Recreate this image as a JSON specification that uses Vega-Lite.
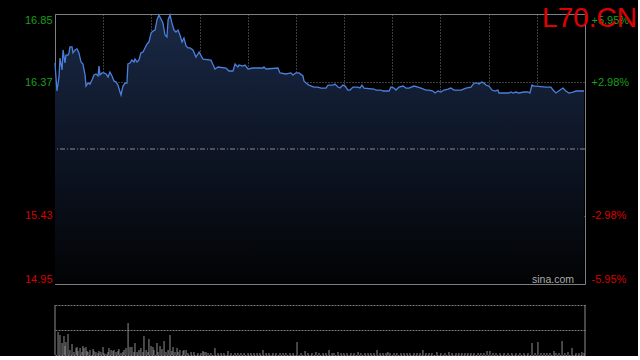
{
  "$schema": "https://vega.github.io/schema/vega-lite/v6.json",
  "background": "#000000",
  "padding": {"left": 0, "top": 4, "right": 0, "bottom": 0},
  "spacing": 18,
  "datasets": {
    "price": [
      {"m":0,"p":16.505},{"m":1.2,"p":16.308},{"m":2.5,"p":16.407},{"m":3.1,"p":16.54},{"m":4.4,"p":16.456},{"m":5.0,"p":16.597},{"m":6.2,"p":16.505},{"m":6.8,"p":16.561},{"m":8.1,"p":16.561},{"m":8.7,"p":16.576},{"m":9.3,"p":16.618},{"m":10.6,"p":16.618},{"m":11.2,"p":16.576},{"m":12.5,"p":16.597},{"m":13.7,"p":16.604},{"m":14.9,"p":16.576},{"m":16.2,"p":16.512},{"m":17.4,"p":16.498},{"m":18.7,"p":16.421},{"m":19.3,"p":16.343},{"m":20.5,"p":16.364},{"m":21.8,"p":16.357},{"m":23.0,"p":16.386},{"m":24.3,"p":16.421},{"m":25.5,"p":16.428},{"m":26.8,"p":16.414},{"m":27.4,"p":16.484},{"m":28.0,"p":16.421},{"m":29.3,"p":16.435},{"m":30.5,"p":16.435},{"m":31.8,"p":16.428},{"m":33.0,"p":16.407},{"m":34.2,"p":16.442},{"m":35.5,"p":16.414},{"m":36.7,"p":16.379},{"m":38.0,"p":16.371},{"m":39.2,"p":16.35},{"m":40.5,"p":16.301},{"m":41.1,"p":16.28},{"m":42.3,"p":16.343},{"m":43.6,"p":16.364},{"m":44.8,"p":16.364},{"m":45.4,"p":16.498},{"m":46.7,"p":16.505},{"m":47.9,"p":16.526},{"m":49.2,"p":16.512},{"m":49.8,"p":16.533},{"m":51.1,"p":16.512},{"m":52.3,"p":16.526},{"m":53.5,"p":16.576},{"m":54.8,"p":16.583},{"m":56.0,"p":16.611},{"m":57.3,"p":16.639},{"m":58.5,"p":16.653},{"m":59.8,"p":16.716},{"m":61.0,"p":16.73},{"m":62.3,"p":16.737},{"m":63.5,"p":16.808},{"m":64.7,"p":16.843},{"m":66.0,"p":16.815},{"m":67.2,"p":16.787},{"m":68.5,"p":16.702},{"m":69.7,"p":16.688},{"m":70.4,"p":16.808},{"m":71.6,"p":16.843},{"m":72.8,"p":16.787},{"m":74.1,"p":16.737},{"m":75.3,"p":16.723},{"m":76.6,"p":16.737},{"m":77.8,"p":16.702},{"m":79.1,"p":16.653},{"m":80.3,"p":16.681},{"m":81.6,"p":16.625},{"m":82.8,"p":16.611},{"m":84.1,"p":16.611},{"m":85.9,"p":16.597},{"m":87.8,"p":16.547},{"m":89.7,"p":16.583},{"m":92.1,"p":16.533},{"m":97.1,"p":16.526},{"m":99.6,"p":16.463},{"m":101.5,"p":16.477},{"m":106.5,"p":16.47},{"m":108.3,"p":16.449},{"m":110.8,"p":16.449},{"m":112.1,"p":16.498},{"m":113.9,"p":16.477},{"m":114.6,"p":16.491},{"m":117.0,"p":16.484},{"m":118.3,"p":16.491},{"m":120.2,"p":16.463},{"m":123.3,"p":16.47},{"m":129.5,"p":16.47},{"m":130.1,"p":16.477},{"m":131.4,"p":16.463},{"m":138.8,"p":16.47},{"m":140.1,"p":16.435},{"m":143.8,"p":16.428},{"m":146.9,"p":16.435},{"m":148.2,"p":16.421},{"m":150.0,"p":16.435},{"m":151.9,"p":16.435},{"m":154.4,"p":16.414},{"m":155.0,"p":16.379},{"m":156.3,"p":16.364},{"m":158.1,"p":16.35},{"m":161.3,"p":16.336},{"m":163.7,"p":16.336},{"m":165.6,"p":16.329},{"m":168.7,"p":16.329},{"m":170.0,"p":16.35},{"m":173.1,"p":16.35},{"m":174.3,"p":16.357},{"m":176.2,"p":16.336},{"m":177.4,"p":16.329},{"m":179.3,"p":16.35},{"m":180.6,"p":16.343},{"m":182.4,"p":16.315},{"m":183.7,"p":16.315},{"m":185.5,"p":16.336},{"m":188.6,"p":16.336},{"m":189.9,"p":16.329},{"m":191.1,"p":16.35},{"m":192.4,"p":16.329},{"m":198.6,"p":16.322},{"m":199.9,"p":16.315},{"m":203.0,"p":16.315},{"m":204.2,"p":16.308},{"m":208.0,"p":16.308},{"m":209.2,"p":16.336},{"m":211.1,"p":16.329},{"m":212.3,"p":16.315},{"m":214.2,"p":16.336},{"m":216.7,"p":16.343},{"m":218.5,"p":16.329},{"m":220.4,"p":16.329},{"m":223.5,"p":16.343},{"m":226.0,"p":16.336},{"m":227.9,"p":16.329},{"m":231.0,"p":16.315},{"m":232.9,"p":16.315},{"m":235.3,"p":16.308},{"m":236.6,"p":16.294},{"m":238.5,"p":16.308},{"m":240.3,"p":16.301},{"m":242.2,"p":16.315},{"m":244.7,"p":16.322},{"m":246.5,"p":16.329},{"m":248.4,"p":16.315},{"m":252.8,"p":16.315},{"m":255.9,"p":16.329},{"m":259.0,"p":16.336},{"m":260.9,"p":16.364},{"m":263.4,"p":16.364},{"m":264.0,"p":16.357},{"m":265.8,"p":16.371},{"m":267.1,"p":16.364},{"m":268.3,"p":16.35},{"m":270.2,"p":16.343},{"m":272.1,"p":16.315},{"m":273.9,"p":16.308},{"m":275.8,"p":16.315},{"m":276.4,"p":16.294},{"m":282.7,"p":16.294},{"m":283.9,"p":16.301},{"m":285.2,"p":16.294},{"m":287.0,"p":16.301},{"m":288.9,"p":16.294},{"m":292.0,"p":16.301},{"m":294.5,"p":16.301},{"m":295.7,"p":16.294},{"m":297.0,"p":16.35},{"m":298.2,"p":16.343},{"m":299.5,"p":16.343},{"m":305.7,"p":16.336},{"m":308.8,"p":16.336},{"m":310.1,"p":16.315},{"m":311.9,"p":16.294},{"m":314.4,"p":16.315},{"m":316.3,"p":16.329},{"m":318.1,"p":16.308},{"m":320.0,"p":16.294},{"m":322.5,"p":16.301},{"m":324.4,"p":16.308},{"m":326.2,"p":16.308},{"m":328.1,"p":16.308},{"m":329.4,"p":16.308}
    ],
    "vol": [
      {"m":0,"v":50},{"m":1.9,"v":23},{"m":3.1,"v":20},{"m":4.4,"v":12},{"m":5.6,"v":19},{"m":6.2,"v":9},{"m":6.8,"v":13},{"m":8.1,"v":21},{"m":9.3,"v":5},{"m":10.6,"v":11},{"m":11.8,"v":3},{"m":13.1,"v":7},{"m":13.7,"v":8},{"m":14.3,"v":4},{"m":15.6,"v":7},{"m":16.8,"v":3},{"m":17.4,"v":9},{"m":18.1,"v":7},{"m":19.3,"v":8},{"m":19.9,"v":4},{"m":20.5,"v":3},{"m":21.8,"v":5},{"m":23.7,"v":6},{"m":24.3,"v":4},{"m":25.5,"v":3},{"m":26.8,"v":2},{"m":27.4,"v":4},{"m":28.6,"v":3},{"m":29.9,"v":8},{"m":30.5,"v":2},{"m":31.8,"v":1},{"m":33.0,"v":3},{"m":33.6,"v":7},{"m":34.9,"v":5},{"m":36.1,"v":4},{"m":36.7,"v":5},{"m":38.0,"v":3},{"m":39.2,"v":4},{"m":39.8,"v":6},{"m":41.1,"v":2},{"m":42.3,"v":3},{"m":43.0,"v":5},{"m":44.2,"v":7},{"m":45.5,"v":32},{"m":46.7,"v":8},{"m":47.9,"v":8},{"m":49.2,"v":3},{"m":49.8,"v":12},{"m":51.1,"v":3},{"m":52.3,"v":5},{"m":53.5,"v":7},{"m":54.8,"v":3},{"m":55.4,"v":19},{"m":56.7,"v":5},{"m":57.9,"v":3},{"m":58.5,"v":16},{"m":59.8,"v":9},{"m":61.0,"v":8},{"m":61.6,"v":5},{"m":63.5,"v":12},{"m":64.1,"v":3},{"m":65.4,"v":9},{"m":66.6,"v":6},{"m":67.9,"v":14},{"m":69.1,"v":3},{"m":70.4,"v":5},{"m":71.6,"v":20},{"m":72.8,"v":4},{"m":73.5,"v":8},{"m":74.7,"v":3},{"m":76.0,"v":7},{"m":76.6,"v":3},{"m":77.8,"v":5},{"m":79.7,"v":4},{"m":80.3,"v":5},{"m":81.6,"v":5},{"m":82.8,"v":2},{"m":84.7,"v":3},{"m":86.5,"v":3},{"m":89.0,"v":2},{"m":90.9,"v":2},{"m":92.1,"v":4},{"m":92.8,"v":3},{"m":94.0,"v":3},{"m":95.3,"v":2},{"m":97.1,"v":2},{"m":99.6,"v":7},{"m":101.5,"v":2},{"m":103.4,"v":2},{"m":105.2,"v":2},{"m":107.7,"v":4},{"m":109.6,"v":2},{"m":112.1,"v":2},{"m":113.9,"v":2},{"m":115.8,"v":2},{"m":117.7,"v":2},{"m":120.2,"v":2},{"m":122.0,"v":2},{"m":123.9,"v":2},{"m":125.8,"v":2},{"m":127.6,"v":2},{"m":129.5,"v":5},{"m":131.4,"v":2},{"m":133.2,"v":2},{"m":135.7,"v":2},{"m":137.6,"v":2},{"m":140.1,"v":2},{"m":142.0,"v":2},{"m":143.8,"v":2},{"m":146.3,"v":2},{"m":148.2,"v":2},{"m":150.7,"v":13},{"m":153.2,"v":2},{"m":155.7,"v":4},{"m":157.5,"v":2},{"m":160.0,"v":2},{"m":162.5,"v":3},{"m":164.4,"v":2},{"m":166.9,"v":2},{"m":168.7,"v":2},{"m":170.6,"v":5},{"m":172.5,"v":2},{"m":173.7,"v":2},{"m":176.2,"v":3},{"m":178.1,"v":2},{"m":179.9,"v":2},{"m":181.8,"v":2},{"m":184.3,"v":2},{"m":186.2,"v":2},{"m":188.7,"v":3},{"m":190.5,"v":2},{"m":193.0,"v":2},{"m":194.9,"v":2},{"m":196.7,"v":2},{"m":198.6,"v":2},{"m":200.5,"v":5},{"m":202.4,"v":2},{"m":204.2,"v":2},{"m":206.1,"v":2},{"m":207.3,"v":3},{"m":208.6,"v":2},{"m":211.1,"v":2},{"m":212.9,"v":2},{"m":215.4,"v":2},{"m":217.3,"v":2},{"m":219.2,"v":2},{"m":221.0,"v":2},{"m":223.5,"v":2},{"m":225.4,"v":2},{"m":227.3,"v":2},{"m":229.1,"v":5},{"m":231.0,"v":2},{"m":232.9,"v":2},{"m":234.7,"v":2},{"m":237.8,"v":3},{"m":240.3,"v":2},{"m":242.8,"v":2},{"m":245.3,"v":3},{"m":247.2,"v":2},{"m":249.7,"v":2},{"m":251.5,"v":2},{"m":253.4,"v":2},{"m":255.3,"v":2},{"m":257.1,"v":2},{"m":259.0,"v":2},{"m":260.9,"v":2},{"m":263.4,"v":2},{"m":265.2,"v":2},{"m":267.1,"v":2},{"m":269.0,"v":4},{"m":270.8,"v":4},{"m":272.7,"v":2},{"m":274.6,"v":2},{"m":277.1,"v":2},{"m":279.6,"v":2},{"m":282.0,"v":2},{"m":284.5,"v":2},{"m":287.0,"v":2},{"m":289.5,"v":2},{"m":292.0,"v":2},{"m":294.5,"v":2},{"m":297.0,"v":12},{"m":298.9,"v":2},{"m":300.7,"v":13},{"m":302.6,"v":2},{"m":304.5,"v":2},{"m":306.3,"v":2},{"m":308.2,"v":2},{"m":310.7,"v":4},{"m":311.9,"v":2},{"m":313.8,"v":2},{"m":315.7,"v":14},{"m":317.5,"v":2},{"m":319.4,"v":3},{"m":321.9,"v":7},{"m":324.4,"v":2},{"m":326.3,"v":2},{"m":328.1,"v":3},{"m":329.4,"v":2},{"m":330,"v":50}
    ]
  },
  "config": {
    "font": "Liberation Sans",
    "axis": {
      "domain": false,
      "ticks": false,
      "tickSize": 0,
      "labelFont": "Liberation Sans",
      "labelFontSize": 11,
      "labelOverlap": false,
      "gridColor": "#7a7a7a",
      "gridDash": [1, 2],
      "gridWidth": 1
    }
  },
  "vconcat": [
    {
      "width": 530,
      "height": 270,
      "view": {"stroke": "#808080", "strokeWidth": 1},
      "layer": [
        {
          "data": {"name": "price"},
          "mark": {
            "type": "area",
            "line": false,
            "fill": {
              "gradient": "linear",
              "x1": 0, "y1": 0, "x2": 0, "y2": 1,
              "stops": [
                {"offset": 0, "color": "#1a2946"},
                {"offset": 0.35, "color": "#111b2f"},
                {"offset": 0.7, "color": "#090e18"},
                {"offset": 1, "color": "#020304"}
              ]
            }
          },
          "encoding": {
            "x": {
              "field": "m", "type": "quantitative", "title": null,
              "scale": {"domain": [0, 330], "nice": false, "zero": false},
              "axis": {"values": [30, 60, 90, 120, 150, 180, 210, 240, 270, 300], "labels": false, "grid": true, "minExtent": 0, "maxExtent": 0}
            },
            "y": {
              "field": "p", "type": "quantitative", "title": null,
              "scale": {"domain": [14.95, 16.85], "nice": false, "zero": false},
              "axis": {
                "orient": "left",
                "values": [14.95, 15.43, 16.37, 16.85],
                "format": ".2f",
                "grid": true,
                "labelFlush": true,
                "labelPadding": 3,
                "minExtent": 54,
                "maxExtent": 54,
                "labelColor": {"condition": {"test": "datum.value > 15.9", "value": "#1a9f1a"}, "value": "#d60000"}
              }
            },
            "y2": {"datum": 14.95}
          }
        },
        {
          "data": {"name": "price"},
          "mark": {"type": "line", "color": "#4a80dc", "strokeWidth": 1.3},
          "encoding": {
            "x": {"field": "m", "type": "quantitative", "title": null, "scale": {"domain": [0, 330], "nice": false, "zero": false}},
            "y": {
              "field": "p", "type": "quantitative", "title": null,
              "scale": {"domain": [14.95, 16.85], "nice": false, "zero": false},
              "axis": {
                "orient": "right",
                "values": [14.95, 15.43, 16.37, 16.85],
                "labelExpr": "datum.value > 16.8 ? '+5.95%' : datum.value > 16 ? '+2.98%' : datum.value > 15 ? '-2.98%' : '-5.95%'",
                "grid": false,
                "labelFlush": true,
                "labelPadding": 6,
                "labelAlign": "left",
                "labelColor": {"condition": {"test": "datum.value > 15.9", "value": "#1a9f1a"}, "value": "#d60000"}
              }
            }
          }
        },
        {
          "data": {"values": [{}]},
          "mark": {"type": "rule", "color": "#8a8a8a", "strokeWidth": 1, "strokeDash": [5, 2, 1, 2]},
          "encoding": {"y": {"datum": 15.9, "type": "quantitative", "axis": null}}
        },
        {
          "data": {"values": [{}]},
          "mark": {"type": "text", "text": "sina.com", "align": "right", "baseline": "alphabetic", "dx": -11, "dy": -1, "color": "#aaaaaa", "fontSize": 10.5, "font": "Liberation Sans"},
          "encoding": {
            "x": {"datum": 330, "type": "quantitative"},
            "y": {"datum": 14.95, "type": "quantitative", "axis": null}
          }
        },
        {
          "data": {"values": [{}]},
          "mark": {"type": "text", "text": "L70.CN", "align": "right", "baseline": "alphabetic", "dx": 52, "dy": 13, "color": "#e00000", "fontSize": 28, "font": "Liberation Sans"},
          "encoding": {
            "x": {"datum": 330, "type": "quantitative"},
            "y": {"datum": 16.85, "type": "quantitative", "axis": null}
          }
        }
      ],
      "resolve": {"axis": {"y": "independent"}}
    },
    {
      "width": 530,
      "height": 50,
      "view": {"stroke": "transparent", "strokeWidth": 0},
      "data": {"name": "vol"},
      "mark": {"type": "rule", "color": "#8c8c8c", "strokeWidth": 1},
      "encoding": {
        "x": {"field": "m", "type": "quantitative", "scale": {"domain": [0, 330], "nice": false, "zero": false}, "axis": null},
        "y": {
          "field": "v", "type": "quantitative", "title": null,
          "scale": {"domain": [0, 50], "nice": false},
          "axis": {"values": [0, 25, 50], "labels": false, "grid": true, "gridDash": [2, 1], "minExtent": 54, "maxExtent": 54}
        },
        "y2": {"datum": 0}
      }
    }
  ]
}
